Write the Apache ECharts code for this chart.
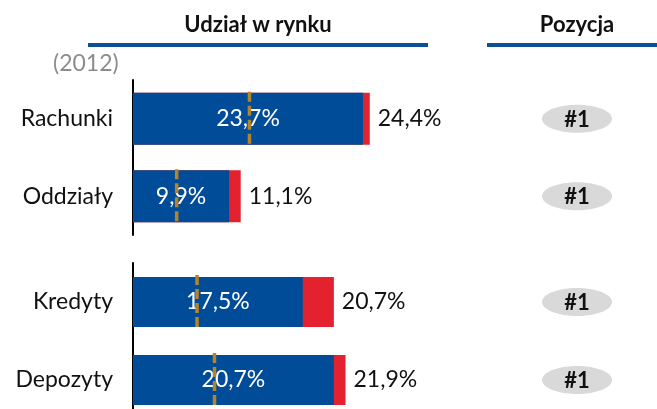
<!DOCTYPE html>
<html>
<head>
<meta charset="utf-8">
<script src="https://cdn.jsdelivr.net/npm/echarts@6/dist/echarts.min.js"></script>
<style>
  html, body { margin: 0; padding: 0; background: #fff; }
  #chart { width: 657px; height: 409px; }
</style>
</head>
<body>
<div id="chart"></div>
<script>
// dane
const categories = ['Rachunki', 'Oddziały', 'Kredyty', 'Depozyty']
const share2012 = [23.7, 9.9, 17.5, 20.7]
const shareNow = [24.4, 11.1, 20.7, 21.9]
const benchmark = [12.0, 4.5, 6.6, 8.4]
const ranks = ['#1', '#1', '#1', '#1']
const groups = [[0, 1], [2, 3]]

const FONT = 'Lato'
const BLUE = '#004c99'
const RED = '#e3212f'
const GOLD = '#b3852b'

const fmt = (v) => v.toFixed(1).replace('.', ',') + '%'

const chart = echarts.init(document.getElementById('chart'))

const grids = [
  { left: 133, top: 80, width: 524, height: 155, outerBoundsMode: 'none' },
  { left: 133, top: 263, width: 524, height: 156, outerBoundsMode: 'none' }
]

const xAxes = groups.map((g, i) => ({
  gridIndex: i, type: 'value', min: 0, max: 54, show: false
}))

const yAxes = groups.map((g, i) => ({
  gridIndex: i,
  type: 'category',
  inverse: true,
  data: g.map(k => categories[k]),
  axisLine: { show: true, lineStyle: { color: '#000', width: 2 } },
  axisTick: { show: false },
  axisLabel: { color: '#111', fontSize: 23, fontFamily: FONT, margin: 20 }
}))

const series = []
groups.forEach((g, i) => {
  const bw = i === 0 ? 52 : 50
  // wartość obecna (czerwona)
  series.push({
    type: 'bar', xAxisIndex: i, yAxisIndex: i,
    barWidth: bw,
    data: g.map(k => shareNow[k]),
    itemStyle: { color: RED },
    label: {
      show: true, position: 'right', distance: 8,
      color: '#111', fontSize: 23, fontFamily: FONT,
      formatter: p => fmt(p.value)
    },
    z: 2
  })
  // 2012 (niebieska)
  series.push({
    type: 'bar', xAxisIndex: i, yAxisIndex: i,
    barWidth: bw, barGap: '-100%',
    data: g.map(k => share2012[k]),
    itemStyle: { color: BLUE },
    label: {
      show: true, position: 'inside',
      color: '#fff', fontSize: 23, fontFamily: FONT,
      formatter: p => fmt(p.value)
    },
    z: 3
  })
  // przerywana linia
  series.push({
    type: 'custom', xAxisIndex: i, yAxisIndex: i,
    data: g.map((k, j) => [benchmark[k], j]),
    encode: { x: 0, y: 1 },
    renderItem: (params, api) => {
      const p = api.coord([api.value(0), api.value(1)])
      return {
        type: 'line',
        shape: { x1: p[0], y1: p[1] - 27, x2: p[0], y2: p[1] + 29 },
        style: { stroke: GOLD, lineWidth: 3.5, lineDash: [10, 4] }
      }
    },
    z: 10
  })
  // pozycja
  series.push({
    type: 'custom', xAxisIndex: i, yAxisIndex: i,
    data: g.map((k, j) => [0, j]),
    encode: { x: 0, y: 1 },
    renderItem: (params, api) => {
      const p = api.coord([0, api.value(1)])
      const cx = 577
      return {
        type: 'group',
        children: [
          { type: 'ellipse', shape: { cx: cx, cy: p[1], rx: 35, ry: 14 }, style: { fill: '#d9d9d9' } },
          {
            type: 'text',
            style: {
              x: cx, y: p[1] + 1, text: ranks[g[params.dataIndex]],
              align: 'center', verticalAlign: 'middle',
              fill: '#111', fontSize: 22, fontWeight: 'bold', fontFamily: FONT
            }
          }
        ]
      }
    },
    z: 5
  })
})

chart.setOption({
  animation: false,
  grid: grids,
  xAxis: xAxes,
  yAxis: yAxes,
  series: series,
  graphic: [
    { type: 'text', x: 258, y: 25, style: { text: 'Udział w rynku', align: 'center', verticalAlign: 'middle', fontSize: 22, fontWeight: 'bold', fontFamily: FONT, fill: '#111' } },
    { type: 'text', x: 577, y: 25, style: { text: 'Pozycja', align: 'center', verticalAlign: 'middle', fontSize: 22, fontWeight: 'bold', fontFamily: FONT, fill: '#111' } },
    { type: 'rect', shape: { x: 88, y: 43, width: 340, height: 4 }, style: { fill: '#0b4f96' } },
    { type: 'rect', shape: { x: 487, y: 43, width: 170, height: 4 }, style: { fill: '#0b4f96' } },
    { type: 'text', x: 53, y: 64, style: { text: '(2012)', align: 'left', verticalAlign: 'middle', fontSize: 23, fontFamily: FONT, fill: '#8c8c8c' } }
  ]
})
</script>
</body>
</html>
